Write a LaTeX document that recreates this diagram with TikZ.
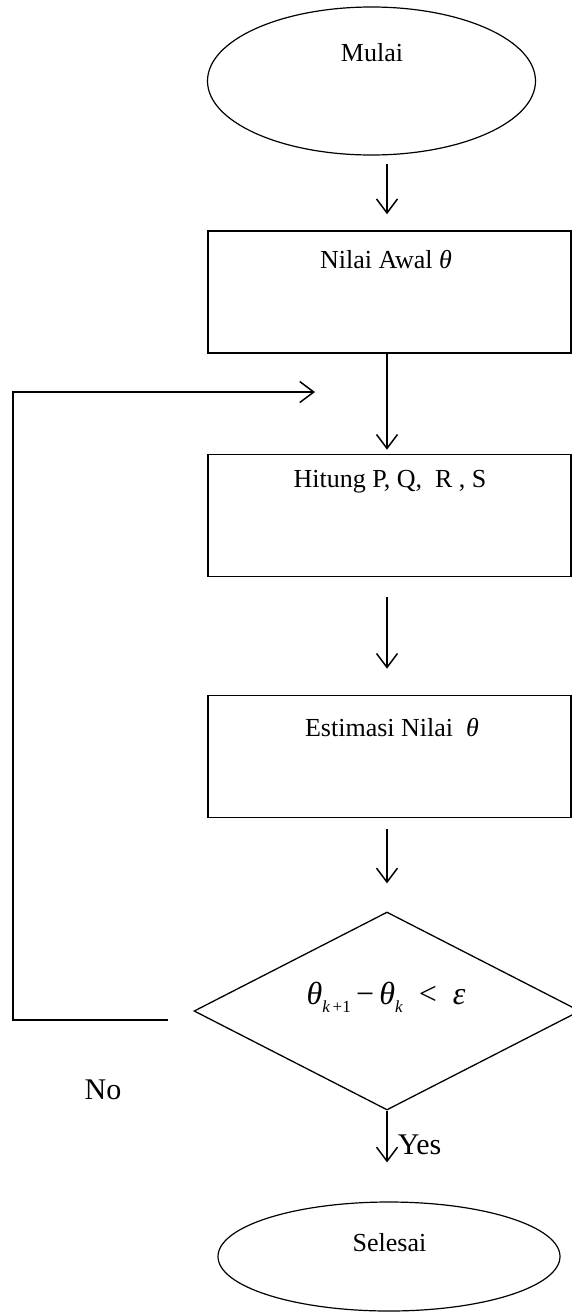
\documentclass[tikz,border=0pt]{standalone}
\usepackage{fontspec}
\setmainfont{Liberation Serif}
\usetikzlibrary{arrows.meta,positioning,calc,shapes.geometric}
\newcommand{\subk}[1]{\raisebox{-8pt}{\fontsize{17}{17}\selectfont #1}}
\tikzset{
  termbox/.style={draw, ellipse, line width=1.2pt, inner sep=0pt},
  procbox/.style={draw, rectangle, line width=1.6pt, inner sep=0pt,
    minimum width=363pt, minimum height=122pt},
  decbox/.style={draw, diamond, line width=1.3pt, inner sep=0pt,
    minimum width=386pt, minimum height=198pt},
  btext/.style={font=\fontsize{26}{30}\selectfont, inner sep=0pt},
  lbl/.style={font=\fontsize{30}{34}\selectfont, inner sep=0pt},
  flow/.style={-{Straight Barb[length=14pt, width=21pt]}, line width=1.5pt},
}
\begin{document}
\begin{tikzpicture}[x=1pt, y=1pt]
    \useasboundingbox (0,0) rectangle (572,-1312);
    % --- start / end ---
    \node[termbox, minimum width=328pt, minimum height=148pt] (mulai) at (371.5,-81) {};
    \node[btext] (mulaitxt) at (372,-53) {Mulai};
    \node[termbox, minimum width=342pt, minimum height=109pt] (selesai) at (389,-1256.5) {};
    \node[btext] (selesaitxt) at (389.5,-1243) {Selesai};
    % --- process boxes ---
    \node[procbox] (nilai) at (389.5,-292) {};
    \node[btext] (nilaitxt) at (386,-260) {Nilai Awal {\itshape θ}};
    \node[procbox] (hitung) at (389.5,-515.5) {};
    \node[btext] (hitungtxt) at (390,-482) {Hitung P, Q,\ \ R , S};
    \node[procbox] (estim) at (389.5,-756.5) {};
    \node[btext] (estimtxt) at (392,-728) {Estimasi Nilai\ \ {\itshape θ}};
    % --- decision ---
    \node[decbox] (cek) at (387,-1011) {};
    \node[btext, font=\fontsize{32}{36}\selectfont] (cektxt) at (386,-997)
      {\itshape θ\subk{k\,\upshape+1}\,\upshape−\,\itshape θ\subk{k}\enspace\upshape<\enspace\itshape ε};
    \node[lbl] (no) at (103,-1090) {No};
    % --- main flow ---
    \draw[flow] ([xshift=15.5pt,yshift=-8pt]mulai.south) -- ([xshift=-2.5pt,yshift=16pt]nilai.north);
    \draw[flow] ([xshift=-2.5pt]nilai.south) -- ([xshift=-2.5pt,yshift=4pt]hitung.north);
    \draw[flow] ([xshift=-2.5pt,yshift=-20pt]hitung.south) -- ([xshift=-2.5pt,yshift=26pt]estim.north);
    \draw[flow] ([xshift=-2.5pt,yshift=-11pt]estim.south) -- ([yshift=28pt]cek.north);
    \draw[flow] (cek.south) -- node[lbl, right, pos=0.66, xshift=10pt]{Yes}
      ([xshift=-2pt,yshift=39pt]selesai.north);
    % --- loop back when not converged ---
    \coordinate (nostart) at (168,-1020);
    \coordinate (lcorner) at (13,-392);
    \coordinate (loopin)  at (315,-392);
    \draw[flow] (nostart) -| (lcorner) -- (loopin);
  \end{tikzpicture}
\end{document}
